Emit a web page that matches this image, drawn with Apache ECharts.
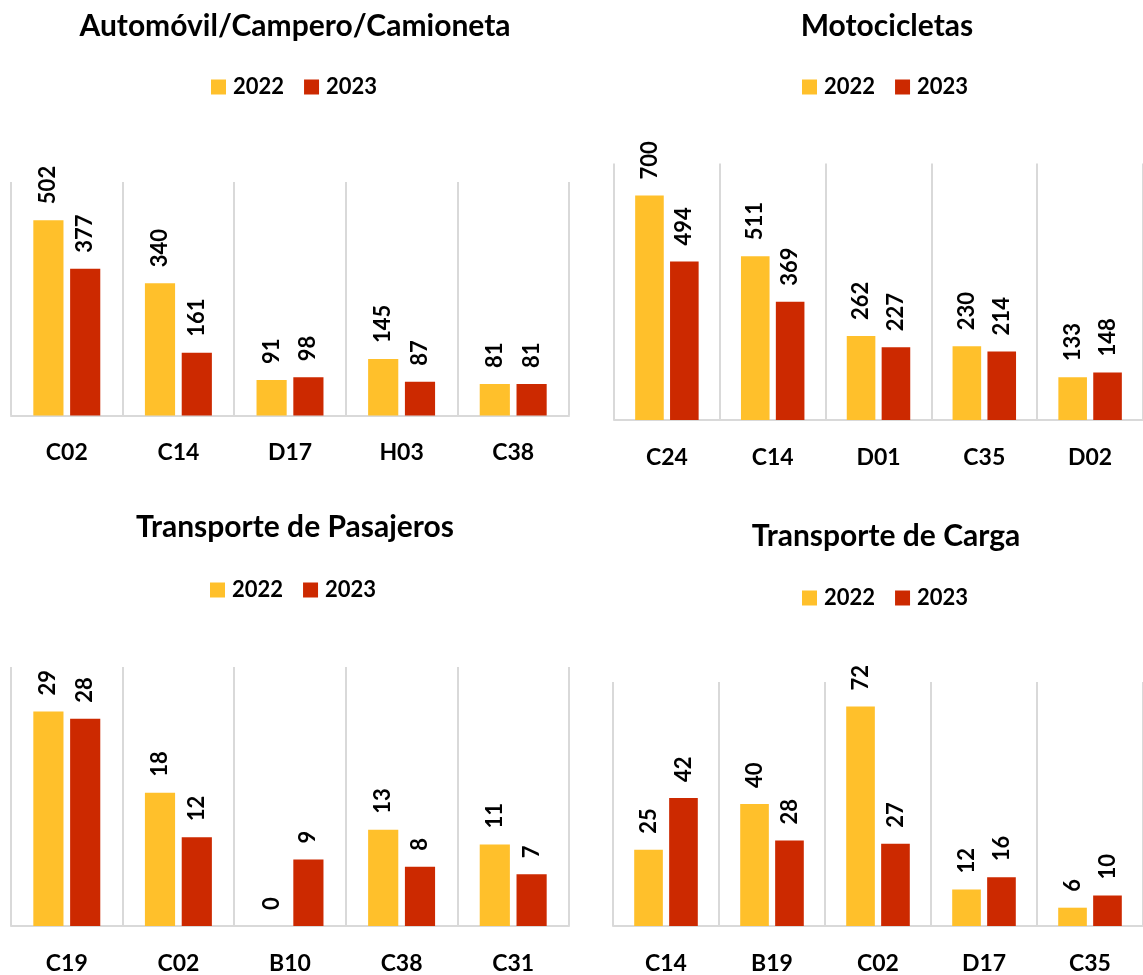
<!DOCTYPE html>
<html>
<head>
<meta charset="utf-8">
<script src="https://cdn.jsdelivr.net/npm/echarts@6/dist/echarts.min.js"></script>
<style>
html,body{margin:0;padding:0;background:#fff;}
#c{width:1143px;height:975px;}
</style>
</head>
<body>
<div id="c"></div>
<script>
const titles = ['Automóvil/Campero/Camioneta', 'Motocicletas', 'Transporte de Pasajeros', 'Transporte de Carga'];
const seriesNames = ['2022', '2023'];

const autoCats = ['C02', 'C14', 'D17', 'H03', 'C38'];
const auto2022 = [502, 340, 91, 145, 81];
const auto2023 = [377, 161, 98, 87, 81];

const motoCats = ['C24', 'C14', 'D01', 'C35', 'D02'];
const moto2022 = [700, 511, 262, 230, 133];
const moto2023 = [494, 369, 227, 214, 148];

const pasCats = ['C19', 'C02', 'B10', 'C38', 'C31'];
const pas2022 = [29, 18, 0, 13, 11];
const pas2023 = [28, 12, 9, 8, 7];

const cargaCats = ['C14', 'B19', 'C02', 'D17', 'C35'];
const carga2022 = [25, 40, 72, 12, 6];
const carga2023 = [42, 28, 27, 16, 10];

const yMax = [600, 800, 35, 80];

const FONT = 'Lato';
const YELLOW = '#FFC02B';
const RED = '#CC2900';
const GRID_COLOR = '#d9d9d9';

const panels = [
  {cats: autoCats, a: auto2022, b: auto2023},
  {cats: motoCats, a: moto2022, b: moto2023},
  {cats: pasCats, a: pas2022, b: pas2023},
  {cats: cargaCats, a: carga2022, b: carga2023}
];

const grids = [
  {left: 11, top: 182, width: 558, height: 233.5},
  {left: 614, top: 163.5, width: 535.5, height: 256.5},
  {left: 11, top: 667, width: 558, height: 260},
  {left: 613, top: 682, width: 536, height: 245}
];
const titlePos = [
  {x: 290, top: 6},
  {x: 882, top: 6},
  {x: 290, top: 507},
  {x: 881, top: 516}
];
const legendPos = [
  {left: 211, top: 76},
  {left: 802, top: 76},
  {left: 210, top: 579},
  {left: 802, top: 587}
];

const option = {
  backgroundColor: '#fff',
  animation: false,
  title: titles.map((t, i) => ({
    text: t,
    left: titlePos[i].x,
    top: titlePos[i].top,
    textAlign: 'center',
    textStyle: {fontFamily: FONT, fontWeight: 'bold', fontSize: 30, color: '#000'}
  })),
  legend: legendPos.map(p => ({
    data: seriesNames,
    left: p.left,
    top: p.top,
    padding: 0,
    itemWidth: 15,
    itemHeight: 15,
    itemGap: 20,
    icon: 'rect',
    textStyle: {fontFamily: FONT, fontWeight: 'bold', fontSize: 22, color: '#000', lineHeight: 15, padding: [0, 0, 0, 2]}
  })),
  grid: grids.map(g => Object.assign({containLabel: false}, g)),
  xAxis: panels.map((p, i) => ({
    type: 'category',
    gridIndex: i,
    data: p.cats,
    boundaryGap: true,
    axisLine: {show: true, lineStyle: {color: GRID_COLOR, width: 2}},
    axisTick: {show: false},
    splitLine: {show: true, lineStyle: {color: GRID_COLOR, width: 2}},
    axisLabel: {fontFamily: FONT, fontWeight: 'bold', fontSize: 23, color: '#000', margin: 26}
  })),
  yAxis: panels.map((p, i) => ({
    type: 'value',
    gridIndex: i,
    min: 0,
    max: yMax[i],
    axisLine: {show: false},
    axisTick: {show: false},
    axisLabel: {show: false},
    splitLine: {show: false}
  })),
  series: []
};

panels.forEach((p, i) => {
  [p.a, p.b].forEach((vals, k) => {
    option.series.push({
      type: 'bar',
      name: seriesNames[k],
      xAxisIndex: i,
      yAxisIndex: i,
      data: vals,
      barGap: '22%',
      barCategoryGap: '40%',
      itemStyle: {color: k === 0 ? YELLOW : RED},
      label: {
        show: true,
        position: 'top',
        distance: 16,
        rotate: 90,
        align: 'left',
        verticalAlign: 'middle',
        fontFamily: FONT,
        fontWeight: 'bold',
        fontSize: 22,
        color: '#000'
      }
    });
  });
});

const chart = echarts.init(document.getElementById('c'), null, {renderer: 'canvas'});
chart.setOption(option);
</script>
</body>
</html>
